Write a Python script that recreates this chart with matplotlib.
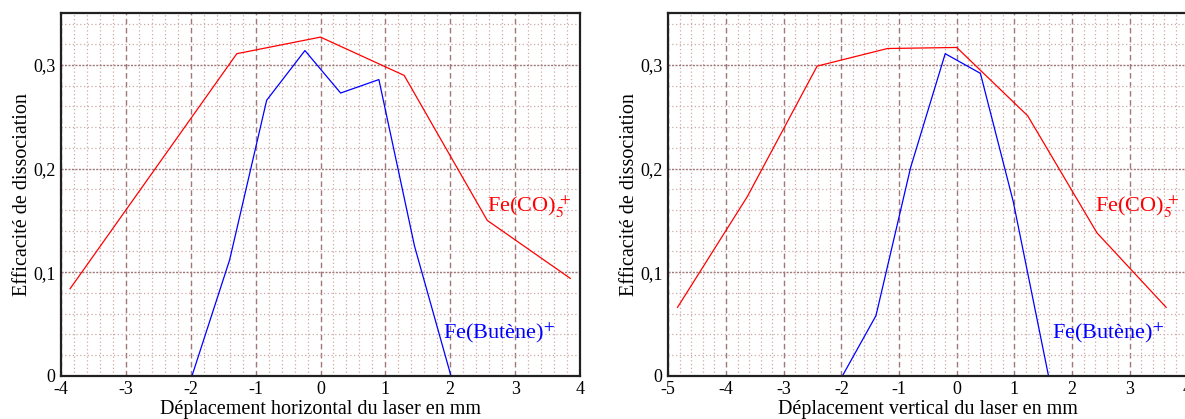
import numpy as np
import matplotlib
matplotlib.use('Agg')
import matplotlib.pyplot as plt
from matplotlib.ticker import MultipleLocator, FuncFormatter

plt.rcParams['font.family'] = ['Liberation Serif', 'DejaVu Serif']
plt.rcParams['mathtext.fontset'] = 'stix'
plt.rcParams['axes.unicode_minus'] = False

# horizontal scan
h_x_co = [-3.86, -1.29, 0.0, 1.29, 2.57, 3.85]
h_y_co = [0.084, 0.311, 0.327, 0.290, 0.150, 0.094]
h_x_but = [-1.98, -1.40, -0.83, -0.24, 0.31, 0.90, 1.45, 2.01]
h_y_but = [0.0, 0.112, 0.266, 0.314, 0.273, 0.286, 0.125, 0.0]

# vertical scan
v_x_co = [-4.84, -3.63, -2.42, -1.20, 0.0, 1.23, 2.43, 3.63]
v_y_co = [0.066, 0.173, 0.299, 0.316, 0.317, 0.251, 0.138, 0.066]
v_x_but = [-1.98, -1.40, -0.80, -0.20, 0.41, 0.98, 1.59]
v_y_but = [0.0, 0.058, 0.201, 0.311, 0.292, 0.168, 0.0]

y_ticks = [0, 0.1, 0.2, 0.3]

W, H = 1185, 419
fig = plt.figure(figsize=(W / 100, H / 100), dpi=100)

def frac(x0, x1):
    return [x0 / W, (H - 375.7) / H, (x1 - x0) / W, (375.7 - 13.3) / H]

def comma(v, pos):
    if abs(v) < 1e-9:
        return '0'
    return ('%.1f' % v).replace('.', ',')

def setup(ax, xlim, xlabel, ylabel):
    ax.set_xlim(*xlim)
    ax.set_ylim(0, 0.35)
    ax.xaxis.set_major_locator(MultipleLocator(1))
    ax.xaxis.set_minor_locator(MultipleLocator(0.2))
    ax.set_yticks(y_ticks)
    ax.yaxis.set_minor_locator(MultipleLocator(0.02))
    ax.yaxis.set_major_formatter(FuncFormatter(comma))
    ax.xaxis.set_major_formatter(FuncFormatter(lambda v, p: '%d' % round(v)))
    ax.grid(which='minor', color='#cfa8a8', linestyle=(0, (1, 2)), linewidth=0.9)
    ax.grid(which='major', axis='x', color='#a07878', linestyle=(0, (4, 2.5)), linewidth=1.0)
    ax.grid(which='major', axis='y', color='#a07878', linestyle=(0, (1.5, 1)), linewidth=1.0)
    ax.set_axisbelow(True)
    ax.tick_params(which='both', length=0)
    ax.tick_params(axis='x', labelsize=13, pad=4)
    ax.tick_params(axis='y', labelsize=13, pad=4)
    for s in ax.spines.values():
        s.set_linewidth(1.6)
        s.set_color('#202020')
    ax.set_xlabel(xlabel, fontsize=14.5, labelpad=1)
    ax.set_ylabel(ylabel, fontsize=14.5, labelpad=1)

ax1 = fig.add_axes(frac(61, 580))
setup(ax1, (-4, 4), 'Déplacement horizontal du laser en mm', 'Efficacité de dissociation')
ax1.plot(h_x_co, h_y_co, color='#ff0000', linewidth=0.9)
ax1.plot(h_x_but, h_y_but, color='#0000ff', linewidth=0.9)
ax1.text(2.57, 0.158, r'Fe(CO)$_5^{\,+}$', color='#ff0000', fontsize=16, va='baseline')
ax1.text(1.89, 0.036, r'Fe(Butène)$^{+}$', color='#0000ff', fontsize=16, va='baseline')

ax2 = fig.add_axes(frac(668.3, 1187.5))
setup(ax2, (-5, 4), 'Déplacement vertical du laser en mm', 'Efficacité de dissociation')
ax2.plot(v_x_co, v_y_co, color='#ff0000', linewidth=0.9)
ax2.plot(v_x_but, v_y_but, color='#0000ff', linewidth=0.9)
ax2.text(2.40, 0.158, r'Fe(CO)$_5^{\,+}$', color='#ff0000', fontsize=16, va='baseline')
ax2.text(1.645, 0.036, r'Fe(Butène)$^{+}$', color='#0000ff', fontsize=16, va='baseline')

fig.savefig('out.png', dpi=100)
